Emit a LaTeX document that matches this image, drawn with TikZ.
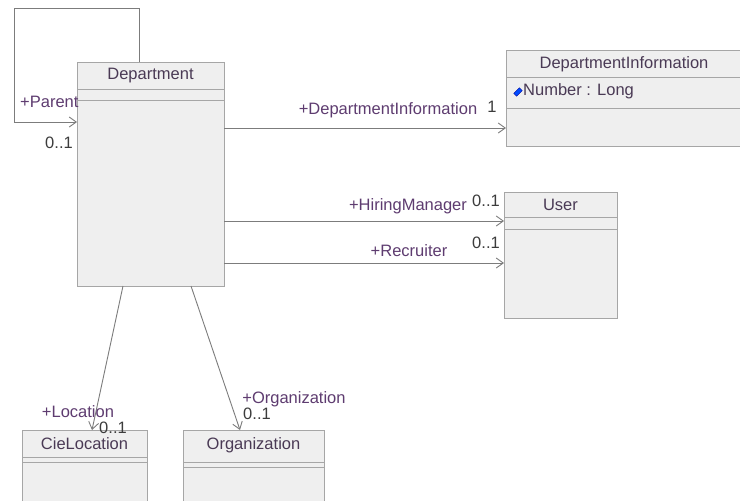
\documentclass[tikz,border=0pt]{standalone}
\usepackage{fontspec}
\setmainfont{Liberation Sans}
\usetikzlibrary{arrows.meta}

\definecolor{trait}{HTML}{7C7C7C}
\definecolor{bord}{HTML}{A6A6A6}
\definecolor{fond}{HTML}{EFEFEF}
\definecolor{role}{HTML}{5E3C70}
\definecolor{titre}{HTML}{4A3A55}
\definecolor{mult}{HTML}{3C3C3C}

\tikzset{
  classe/.style={draw=bord, fill=fond, line width=0.9pt, inner sep=0pt, outer sep=0pt, anchor=north west},
  sep/.style={draw=bord, line width=0.9pt},
  assoc/.style={draw=trait, line width=0.9pt, -{Straight Barb[length=7pt,width=10pt]}},
  txt/.style={inner sep=0pt, font=\fontsize{16.5}{19}\selectfont},
  nomclasse/.style={txt, text=titre},
  roletxt/.style={txt, text=role},
  multtxt/.style={txt, text=mult}
}

\begin{document}
\begin{tikzpicture}[x=1pt, y=-1pt]
  \useasboundingbox[fill=white] (0,0) rectangle (740,501);

  % Classes
  \node[classe, minimum width=147pt, minimum height=224pt] (dept) at (77,62) {};
  \node[classe, minimum width=236pt, minimum height=96pt] (info) at (506,50) {};
  \node[classe, minimum width=113pt, minimum height=126pt] (user) at (504,192) {};
  \node[classe, minimum width=125pt, minimum height=75pt] (cieloc) at (22,430) {};
  \node[classe, minimum width=141pt, minimum height=75pt] (orga) at (183,430) {};

  % Compartiments
  \draw[sep] (dept.west |- 0,89) -- (dept.east |- 0,89);
  \draw[sep] (dept.west |- 0,100) -- (dept.east |- 0,100);
  \draw[sep] (info.west |- 0,77) -- (info.east |- 0,77);
  \draw[sep] (info.west |- 0,108) -- (info.east |- 0,108);
  \draw[sep] (user.west |- 0,217) -- (user.east |- 0,217);
  \draw[sep] (user.west |- 0,229) -- (user.east |- 0,229);
  \draw[sep] (cieloc.west |- 0,457) -- (cieloc.east |- 0,457);
  \draw[sep] (cieloc.west |- 0,462) -- (cieloc.east |- 0,462);
  \draw[sep] (orga.west |- 0,462) -- (orga.east |- 0,462);
  \draw[sep] (orga.west |- 0,467) -- (orga.east |- 0,467);

  % Noms
  \node[nomclasse] (deptnom) at (dept.north |- 0,76) {Department};
  \node[nomclasse] (infonom) at (info.north |- 0,64) {DepartmentInformation};
  \node[nomclasse] (usernom) at (user.north |- 0,205) {User};
  \node[nomclasse] (cielocnom) at (cieloc.north |- 0,444) {CieLocation};
  \node[nomclasse] (organom) at (orga.north |- 0,445) {Organization};

  % Attribut
  \node[draw=blue!60!black, fill=blue!70!cyan, rotate=45, minimum width=8pt, minimum height=4pt, inner sep=0pt] (icone) at (518,92) {};
  \node[nomclasse, anchor=west] (attr) at (523,91) {Number : Long};

  % Auto-association
  \draw[assoc] (dept.north -| 139,0) |- (14,8) |- (dept.west |- 0,122);
  \node[roletxt, anchor=west] (parent) at (20,102) {+Parent};
  \node[multtxt] (parentmult) at (59,143) {0..1};

  % Associations
  \draw[assoc] (dept.east |- 0,128) -- (info.west |- 0,128);
  \node[roletxt] (inforole) at (388,110) {+DepartmentInformation};
  \node[multtxt] (infomult) at (492,107) {1};

  \draw[assoc] (dept.east |- 0,221) -- (user.west |- 0,221);
  \node[roletxt] (hiring) at (408,206) {+HiringManager};
  \node[multtxt] (hiringmult) at (486,201) {0..1};

  \draw[assoc] (dept.east |- 0,263) -- (user.west |- 0,263);
  \node[roletxt] (recruiter) at (409,251) {+Recruiter};
  \node[multtxt] (recruitermult) at (486,243) {0..1};

  \draw[assoc] (dept.south -| 123,0) -- (cieloc.north -| 92,0);
  \node[roletxt] (location) at (78,412) {+Location};
  \node[multtxt] (locationmult) at (113,428) {0..1};

  \draw[assoc] (dept.south -| 191,0) -- (orga.north -| 240,0);
  \node[roletxt] (orgarole) at (294,399) {+Organization};
  \node[multtxt] (orgamult) at (257,414) {0..1};
\end{tikzpicture}
\end{document}
